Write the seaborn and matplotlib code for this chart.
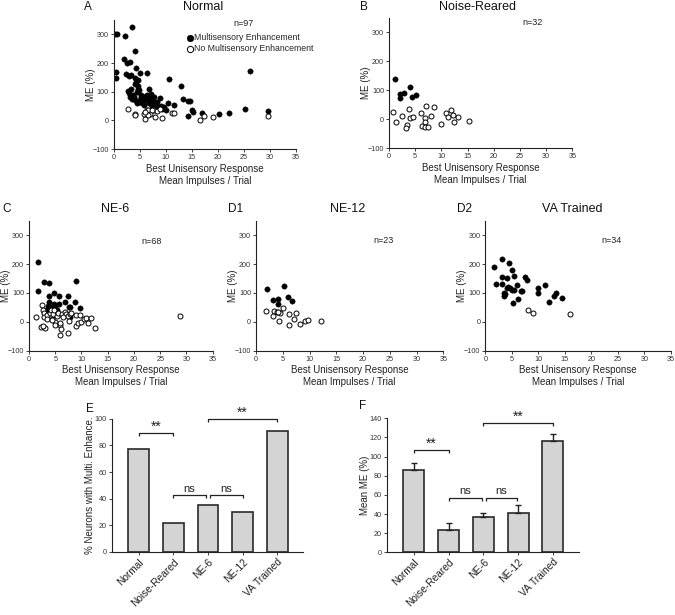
import numpy as np
import pandas as pd
import matplotlib
matplotlib.use("Agg")
import matplotlib.pyplot as plt
import seaborn as sns

sns.set_style("ticks")
plt.rcParams['font.family'] = ['Liberation Sans', 'DejaVu Sans']

# ---------------- data ----------------
# Panel A: Normal
a_fill_x = [0.3, 0.6, 2.1, 3.6, 4.0, 0.45, 0.5, 1.9, 2.6, 3.1, 4.3, 2.4, 2.9, 3.3, 4.0, 4.2, 5.0, 6.3,
            2.7, 4.7, 4.6, 6.8, 10.7, 13.0, 13.3, 14.3, 14.6, 15.0, 15.3, 14.3, 17.0, 20.2, 22.2, 25.2,
            26.2, 29.6,
            3.0, 3.2, 3.5, 3.8, 4.1, 4.4, 4.5, 4.8, 5.0, 5.2, 5.5, 5.8, 6.0, 6.2, 6.5, 6.7, 7.0, 7.2,
            7.5, 7.8, 8.0, 8.3, 8.6, 9.0, 9.3, 9.6, 10.0, 10.4, 11.5, 3.4, 4.0, 4.6, 5.3, 5.9, 6.4,
            7.3, 8.8, 3.9, 4.9]
a_fill_y = [302, 302, 294, 325, 242, 170, 149, 214, 200, 202, 184, 163, 154, 158, 147, 135, 164, 165,
            103, 121, 108, 111, 143, 120, 74, 67, 66, 37, 29, 14, 24, 23, 24, 40,
            171, 32,
            95, 80, 75, 88, 70, 60, 100, 65, 72, 90, 62, 80, 70, 85, 78, 60, 75, 92,
            68, 80, 50, 65, 45, 50, 40, 45, 35, 60, 52, 110, 125, 140, 80, 55, 90,
            50, 78, 82, 105]
a_open_x = [2.7, 4.0, 4.1, 5.9, 5.95, 6.3, 6.6, 7.0, 7.7, 8.0, 9.2, 8.4, 11.1, 11.5, 16.6, 17.4,
            19.1, 29.6, 6.5, 7.3, 8.8, 6.0]
a_open_y = [38, 23, 17, 23, 3, 35, 35, 22, 37, 12, 8, 33, 27, 27, 2, 14, 12, 15, 18, 35, 38, 28]

# Panel B: Noise-Reared
b_fill_x = [1.1, 2.1, 2.1, 2.9, 4.0, 4.4, 5.2]
b_fill_y = [139, 86, 74, 92, 110, 76, 84]
b_open_x = [0.7, 1.3, 2.4, 3.4, 3.2, 3.8, 4.0, 4.5, 6.2, 7.0, 6.9, 6.8, 6.3, 6.8, 7.4, 8.0, 8.6,
            9.9, 10.9, 11.2, 11.8, 12.2, 12.4, 13.2, 15.3]
b_open_y = [24, -8, 11, -21, -30, 37, 5, 7, 22, 46, 3, -9, -23, -28, -26, 11, 41,
            -16, 23, 8, 32, 14, -9, 9, -7]

# Panel C: NE-6
c_fill_x = [1.7, 1.8, 2.9, 3.9, 3.8, 3.8, 4.7, 4.8, 3.6, 4.5, 5.0, 5.8, 5.8, 6.8, 7.4, 7.6, 7.9,
            8.8, 9.0, 9.7, 4.2, 5.3, 7.8, 3.2]
c_fill_y = [207, 105, 137, 133, 90, 70, 100, 60, 55, 55, 50, 90, 62, 70, 90, 50, 52,
            68, 140, 48, 45, 42, 15, 40]
c_open_x = [1.3, 2.2, 2.5, 2.7, 2.8, 2.9, 3.1, 2.7, 3.5, 4.0, 4.1, 4.3, 4.5, 4.8, 4.9, 5.0, 5.3,
            5.6, 5.9, 5.9, 6.0, 6.1, 6.2, 6.8, 7.0, 7.4, 7.6, 7.5, 7.8, 8.0, 8.9, 9.0, 9.3, 9.8,
            10.0, 10.5, 10.8, 11.3, 11.8, 12.5, 28.8, 3.4, 4.4, 6.5]
c_open_y = [18, -18, 58, 40, 30, 15, -22, -15, 25, 32, 40, 10, 28, 40, 0, -12, 20,
            30, -45, -10, -4, -24, 28, 35, 28, 20, 2, -40, 28, 30, 25, -15, -5, 24,
            0, 10, 14, -3, 12, -22, 19, 10, 5, 15]

# Panel D1: NE-12
d1_fill_x = [2.1, 3.1, 4.2, 4.2, 5.2, 5.9, 6.7]
d1_fill_y = [114, 75, 79, 61, 125, 86, 72]
d1_open_x = [1.9, 3.3, 3.1, 4.0, 4.4, 4.3, 5.1, 6.2, 6.2, 7.1, 7.5, 8.2, 9.2, 9.8, 12.1, 4.2]
d1_open_y = [37, 39, 20, 33, 32, 2, 49, 26, -11, 11, 32, -9, 3, 5, 3, 34]

# Panel D2: VA Trained
d2_fill_x = [1.6, 2.1, 3.1, 3.1, 3.1, 3.6, 3.5, 4.1, 4.3, 4.5, 4.7, 5.0, 5.4, 5.0, 5.3, 5.5, 5.9,
             6.1, 6.7, 7.0, 7.5, 7.9, 9.9, 9.9, 11.2, 12.1, 12.9, 13.4, 14.4, 4.0, 3.8]
d2_fill_y = [189, 130, 217, 156, 130, 101, 88, 153, 122, 203, 116, 178, 159, 110, 65, 111, 128,
             80, 108, 108, 154, 144, 118, 99, 128, 70, 89, 99, 82, 118, 95]
d2_open_x = [8.0, 9.0, 16.0]
d2_open_y = [41, 30, 28]

# Summary bars
groups = ["Normal", "Noise-Reared", "NE-6", "NE-12", "VA Trained"]
pct_enh = [77, 22, 35, 30, 91]
mean_me = [86, 23, 36.5, 41.5, 116]
mean_me_sem = [7, 7.5, 5, 8, 7.5]
n_labels = ["n=97", "n=32", "n=68", "n=23", "n=34"]

# ---------------- figure ----------------
W, H = 675, 615
fig = plt.figure(figsize=(W / 100, H / 100), dpi=100)

def rect(l, t, r, b):
    return [l / W, 1 - b / H, (r - l) / W, (b - t) / H]

tick_color = "#333333"
FS_TICK = 5.2
FS_LAB = 7
FS_TITLE = 9
FS_LET = 8.5

def style(ax):
    sns.despine(ax=ax)
    for s in ["left", "bottom"]:
        ax.spines[s].set_linewidth(0.8)
        ax.spines[s].set_color("#222222")
    ax.tick_params(length=2.5, width=0.6, color="#222222", labelsize=FS_TICK,
                   labelcolor=tick_color, pad=1)

def place_ylabel(ax, text, px_left):
    ax.set_ylabel(text, fontsize=FS_LAB, color="#222222", va="center", ha="center")
    wpx = ax.get_position().width * W
    ax.yaxis.set_label_coords(-px_left / wpx, 0.5)

def scatter_panel(ax, fx, fy, ox, oy, ntext, nxy, legend=False):
    sns.scatterplot(x=fx, y=fy, ax=ax, color="black", s=15, linewidth=0.3,
                    edgecolor="black", label="Multisensory Enhancement")
    sns.scatterplot(x=ox, y=oy, ax=ax, facecolor="white", s=13, linewidth=0.7,
                    edgecolor="black", label="No Multisensory Enhancement")
    ax.set_xlim(0, 35)
    ax.set_ylim(-100, 350)
    ax.set_xticks(range(0, 36, 5))
    ax.set_yticks([-100, 0, 100, 200, 300])
    ax.set_xlabel("Best Unisensory Response\nMean Impulses / Trial", fontsize=FS_LAB,
                  labelpad=2, color="#222222", linespacing=1.25)
    place_ylabel(ax, "ME (%)", 23)
    style(ax)
    ax.text(nxy[0], nxy[1], ntext, fontsize=6.5, ha="center", va="center", color="#222222")
    if legend:
        ax.legend(loc="upper left", bbox_to_anchor=(0.39, 0.905), frameon=False,
                  fontsize=6.3, handletextpad=0.0, borderpad=0.1, labelspacing=0.25,
                  markerscale=1.25, handlelength=1.0, borderaxespad=0)
    else:
        lg = ax.get_legend()
        if lg is not None:
            lg.remove()

axA = fig.add_axes(rect(113.7, 20, 296, 149))
scatter_panel(axA, a_fill_x, a_fill_y, a_open_x, a_open_y, n_labels[0], (25, 337), legend=True)
axB = fig.add_axes(rect(389, 18, 572.3, 148.3))
scatter_panel(axB, b_fill_x, b_fill_y, b_open_x, b_open_y, n_labels[1], (27.5, 333))
axC = fig.add_axes(rect(29, 220.7, 212.7, 350.7))
scatter_panel(axC, c_fill_x, c_fill_y, c_open_x, c_open_y, n_labels[2], (23.4, 277))
axD1 = fig.add_axes(rect(256, 220.7, 443.3, 350.7))
scatter_panel(axD1, d1_fill_x, d1_fill_y, d1_open_x, d1_open_y, n_labels[3], (23.8, 280))
axD2 = fig.add_axes(rect(485.3, 220.7, 671, 350.7))
scatter_panel(axD2, d2_fill_x, d2_fill_y, d2_open_x, d2_open_y, n_labels[4], (23.8, 280))

# ---- bar panels ----
bar_color = "#d4d4d4"
edge = "#2a2a2a"

def bar_panel(ax, vals, ylim, yticks, ylabel):
    df = pd.DataFrame({"group": groups, "val": vals})
    sns.barplot(data=df, x="group", y="val", ax=ax, color=bar_color, edgecolor=edge,
                linewidth=1.2, width=0.6, saturation=1, errorbar=None)
    ax.set_xlim(-0.78, 4.75)
    ax.set_ylim(*ylim)
    ax.set_yticks(yticks)
    ax.set_xlabel("")
    place_ylabel(ax, ylabel, 22)
    style(ax)
    ax.tick_params(axis="x", labelsize=7.3, labelcolor="#222222", length=2.5)
    for lbl in ax.get_xticklabels():
        lbl.set_rotation(45)
        lbl.set_ha("right")
        lbl.set_rotation_mode("anchor")

def bracket(ax, x0, x1, y, drop, text, fs, tdy):
    ax.plot([x0, x0, x1, x1], [y - drop, y, y, y - drop], color="#222222", lw=0.9,
            solid_capstyle="butt", clip_on=False)
    ax.text((x0 + x1) / 2, y + tdy, text, ha="center", va="bottom", fontsize=fs,
            color="#222222", clip_on=False)

axE = fig.add_axes(rect(111.7, 418.7, 303.3, 552))
bar_panel(axE, pct_enh, (0, 100), range(0, 101, 20), "% Neurons with Multi. Enhance.")
e_brackets = [(0, 1, 89.5, "**", 10, -0.5), (1, 1.93, 42.5, "ns", 8, 1.2),
              (2.07, 3, 42.5, "ns", 8, 1.2), (2, 4, 99.5, "**", 10, -0.5)]
for x0, x1, y, t, fs, dy in e_brackets:
    bracket(axE, x0, x1, y, 2.3, t, fs, dy)

axF = fig.add_axes(rect(386.7, 418.3, 579, 552.3))
bar_panel(axF, mean_me, (0, 140), range(0, 141, 20), "Mean ME (%)")
axF.errorbar(x=range(len(groups)), y=mean_me,
             yerr=[np.zeros(len(groups)), mean_me_sem], fmt="none", ecolor="#222222",
             elinewidth=1.0, capsize=2.5, capthick=1.0)
f_brackets = [(0, 1, 107, "**", 10, -0.7), (1, 1.95, 57, "ns", 8, 1.5),
              (2.07, 2.97, 57, "ns", 8, 1.5), (2, 4, 135, "**", 10, -0.7)]
for x0, x1, y, t, fs, dy in f_brackets:
    bracket(axF, x0, x1, y, 3.0, t, fs, dy)

# ---- panel letters and titles ----
def ftext(px, py, s, fs, ha="center"):
    fig.text(px / W, 1 - py / H, s, fontsize=fs, ha=ha, va="center", color="#111111")

ftext(84, 7, "A", FS_LET, ha="left")
ftext(203, 7, "Normal", FS_TITLE)
ftext(360, 7, "B", FS_LET, ha="left")
ftext(477, 7, "Noise-Reared", FS_TITLE)
ftext(2, 209, "C", FS_LET, ha="left")
ftext(115, 209, "NE-6", FS_TITLE)
ftext(228, 209, "D1", FS_LET, ha="left")
ftext(348, 209, "NE-12", FS_TITLE)
ftext(457, 209, "D2", FS_LET, ha="left")
ftext(572, 209, "VA Trained", FS_TITLE)
ftext(86, 409, "E", FS_LET, ha="left")
ftext(359, 406, "F", FS_LET, ha="left")

fig.savefig("out.png", dpi=100)
